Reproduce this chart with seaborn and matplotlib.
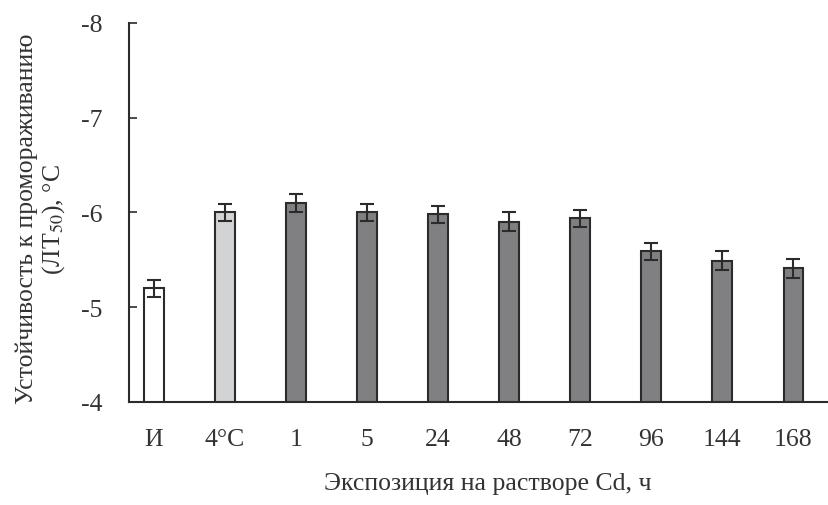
import numpy as np
import pandas as pd
import matplotlib
matplotlib.use("Agg")
import matplotlib.pyplot as plt
import seaborn as sns

categories = ["И", "4°C", "1", "5", "24", "48", "72", "96", "144", "168"]
lt50 = [-5.20, -6.00, -6.10, -6.00, -5.98, -5.90, -5.94, -5.59, -5.49, -5.41]
err = [0.09, 0.09, 0.10, 0.09, 0.09, 0.10, 0.09, 0.09, 0.10, 0.10]
colors = ["#ffffff", "#d2d3d5"] + ["#7f8083"] * 8

sns.set_style("white")
plt.rcParams["font.family"] = ["Liberation Serif", "DejaVu Serif"]
plt.rcParams["mathtext.fontset"] = "stix"

df = pd.DataFrame({"cat": categories, "val": lt50})

fig = plt.figure(figsize=(8.29, 5.06), dpi=100)
ax = fig.add_axes([0.1556, 0.2036, 0.8444, 0.749])

sns.barplot(data=df, x="cat", y="val", hue="cat", palette=colors, legend=False,
            width=0.28, edgecolor="#2b2b2b", linewidth=1.5, ax=ax)
ax.errorbar(np.arange(len(categories)), lt50, yerr=err, fmt="none",
            ecolor="#2b2b2b", elinewidth=1.5, capsize=5, capthick=1.5)

ax.set_ylim(-4, -8)
ax.set_xlim(-0.35, 9.5)
ax.set_yticks([-4, -5, -6, -7, -8])
ax.set_yticklabels(["-4", "-5", "-6", "-7", "-8"])

sns.despine(ax=ax, top=True, right=True)
for s in ["left", "bottom"]:
    ax.spines[s].set_color("#2b2b2b")
    ax.spines[s].set_linewidth(1.5)

ax.tick_params(axis="y", direction="in", length=6, width=1.2, colors="#2b2b2b",
               labelsize=18.5, labelcolor="#333333", pad=19, left=True)
ax.tick_params(axis="x", length=0, labelsize=18.5, labelcolor="#333333", pad=19)

ax.set_xlabel("Экспозиция на растворе Cd, ч", fontsize=18.5, color="#333333")
ax.set_ylabel("Устойчивость к промораживанию\n(ЛТ$_{50}$), °C", fontsize=18.5,
              color="#333333", linespacing=1.15)
ax.xaxis.set_label_coords(0.513, -0.185)
ax.yaxis.set_label_coords(-0.088, 0.485)

fig.savefig("out.png", dpi=100)
